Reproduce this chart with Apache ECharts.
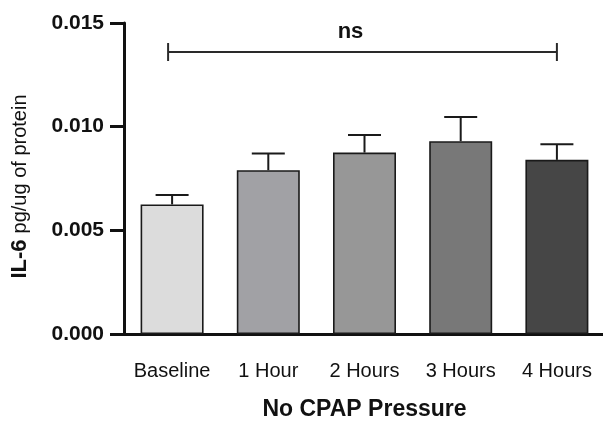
<!DOCTYPE html>
<html>
<head>
<meta charset="utf-8">
<script src="https://cdn.jsdelivr.net/npm/echarts@6/dist/echarts.min.js"></script>
<style>
  html, body { margin: 0; padding: 0; background: #fff; }
  #chart { width: 603px; height: 426px; }
</style>
</head>
<body>
<div id="chart"></div>
<script>
// IL-6 per timepoint, no CPAP pressure (mean and SEM)
const categories = ['Baseline', '1 Hour', '2 Hours', '3 Hours', '4 Hours'];
const means = [0.00625, 0.00790, 0.00875, 0.00930, 0.00840];
const sems  = [0.00045, 0.00080, 0.00085, 0.00117, 0.00075];
const barColors = ['#dcdcdc', '#a1a1a5', '#979797', '#787878', '#464646'];
const yTicks = { min: 0, max: 0.015, interval: 0.005 };
// comparison bracket: from first to last group, with its label
const sigFrom = 0, sigTo = 4, sigLevel = 0.0136, sigLabel = 'ns';

const font = 'Arial, "Liberation Sans", Helvetica, sans-serif';
const ink = '#111';

const chart = echarts.init(document.getElementById('chart'), null, { renderer: 'canvas' });

chart.setOption({
  animation: false,
  backgroundColor: '#fff',
  grid: {
    left: 124, top: 23, width: 481, height: 311,
    containLabel: false, outerBoundsMode: 'none'
  },
  xAxis: {
    type: 'category',
    data: categories,
    name: 'No CPAP Pressure',
    nameLocation: 'middle',
    nameGap: 64,
    nameTextStyle: { fontFamily: font, fontWeight: 'bold', fontSize: 23, color: ink },
    axisLine: { lineStyle: { color: ink, width: 3 } },
    axisTick: { alignWithLabel: true, length: 11, lineStyle: { color: ink, width: 3 } },
    axisLabel: { interval: 0, fontFamily: font, fontSize: 20, color: ink, margin: 27 },
    splitLine: { show: false }
  },
  yAxis: {
    type: 'value',
    min: yTicks.min,
    max: yTicks.max,
    interval: yTicks.interval,
    name: '{b|IL-6}{r|pg/ug of protein}',
    nameLocation: 'middle',
    nameGap: 93,
    nameTextStyle: {
      rich: {
        b: { fontFamily: font, fontWeight: 'bold', fontSize: 22, color: ink },
        r: { fontFamily: font, fontSize: 20, color: ink, padding: [0, 16, 0, 6] }
      }
    },
    axisLine: { show: true, lineStyle: { color: ink, width: 3 } },
    axisTick: { show: true, length: 14, lineStyle: { color: ink, width: 3 } },
    axisLabel: {
      fontFamily: font, fontWeight: 'bold', fontSize: 21, color: ink, margin: 20,
      formatter: v => v.toFixed(3)
    },
    splitLine: { show: false }
  },
  series: [
    {
      type: 'bar',
      barWidth: 63,
      data: means.map((v, i) => ({
        value: v,
        itemStyle: { color: barColors[i], borderColor: '#1a1a1a', borderWidth: 1.6 }
      })),
      z: 2
    },
    {
      // upper SEM whiskers
      type: 'custom',
      data: means.map((v, i) => [i, v, v + sems[i]]),
      renderItem: (params, api) => {
        const base = api.coord([api.value(0), api.value(1)]);
        const top = api.coord([api.value(0), api.value(2)]);
        const half = 16.5;
        const style = { stroke: '#1a1a1a', lineWidth: 2 };
        return {
          type: 'group',
          children: [
            { type: 'line', shape: { x1: base[0], y1: base[1], x2: top[0], y2: top[1] }, style },
            { type: 'line', shape: { x1: top[0] - half, y1: top[1], x2: top[0] + half, y2: top[1] }, style }
          ]
        };
      },
      z: 1
    },
    {
      // significance bracket
      type: 'custom',
      data: [[sigFrom, sigTo, sigLevel]],
      renderItem: (params, api) => {
        const a = api.coord([api.value(0), api.value(2)]);
        const b = api.coord([api.value(1), api.value(2)]);
        const x1 = a[0] - 4, x2 = b[0], y = a[1];
        const cap = 9;
        const style = { stroke: '#2a2a2a', lineWidth: 2 };
        return {
          type: 'group',
          children: [
            { type: 'line', shape: { x1, y1: y, x2, y2: y }, style },
            { type: 'line', shape: { x1, y1: y - cap, x2: x1, y2: y + cap }, style },
            { type: 'line', shape: { x1: x2, y1: y - cap, x2, y2: y + cap }, style },
            {
              type: 'text',
              style: {
                text: sigLabel, x: (x1 + x2) / 2 - 12, y: y - 20,
                align: 'center', verticalAlign: 'middle',
                fontFamily: font, fontWeight: 'bold', fontSize: 22, fill: ink
              }
            }
          ]
        };
      },
      z: 3
    }
  ]
});
</script>
</body>
</html>
